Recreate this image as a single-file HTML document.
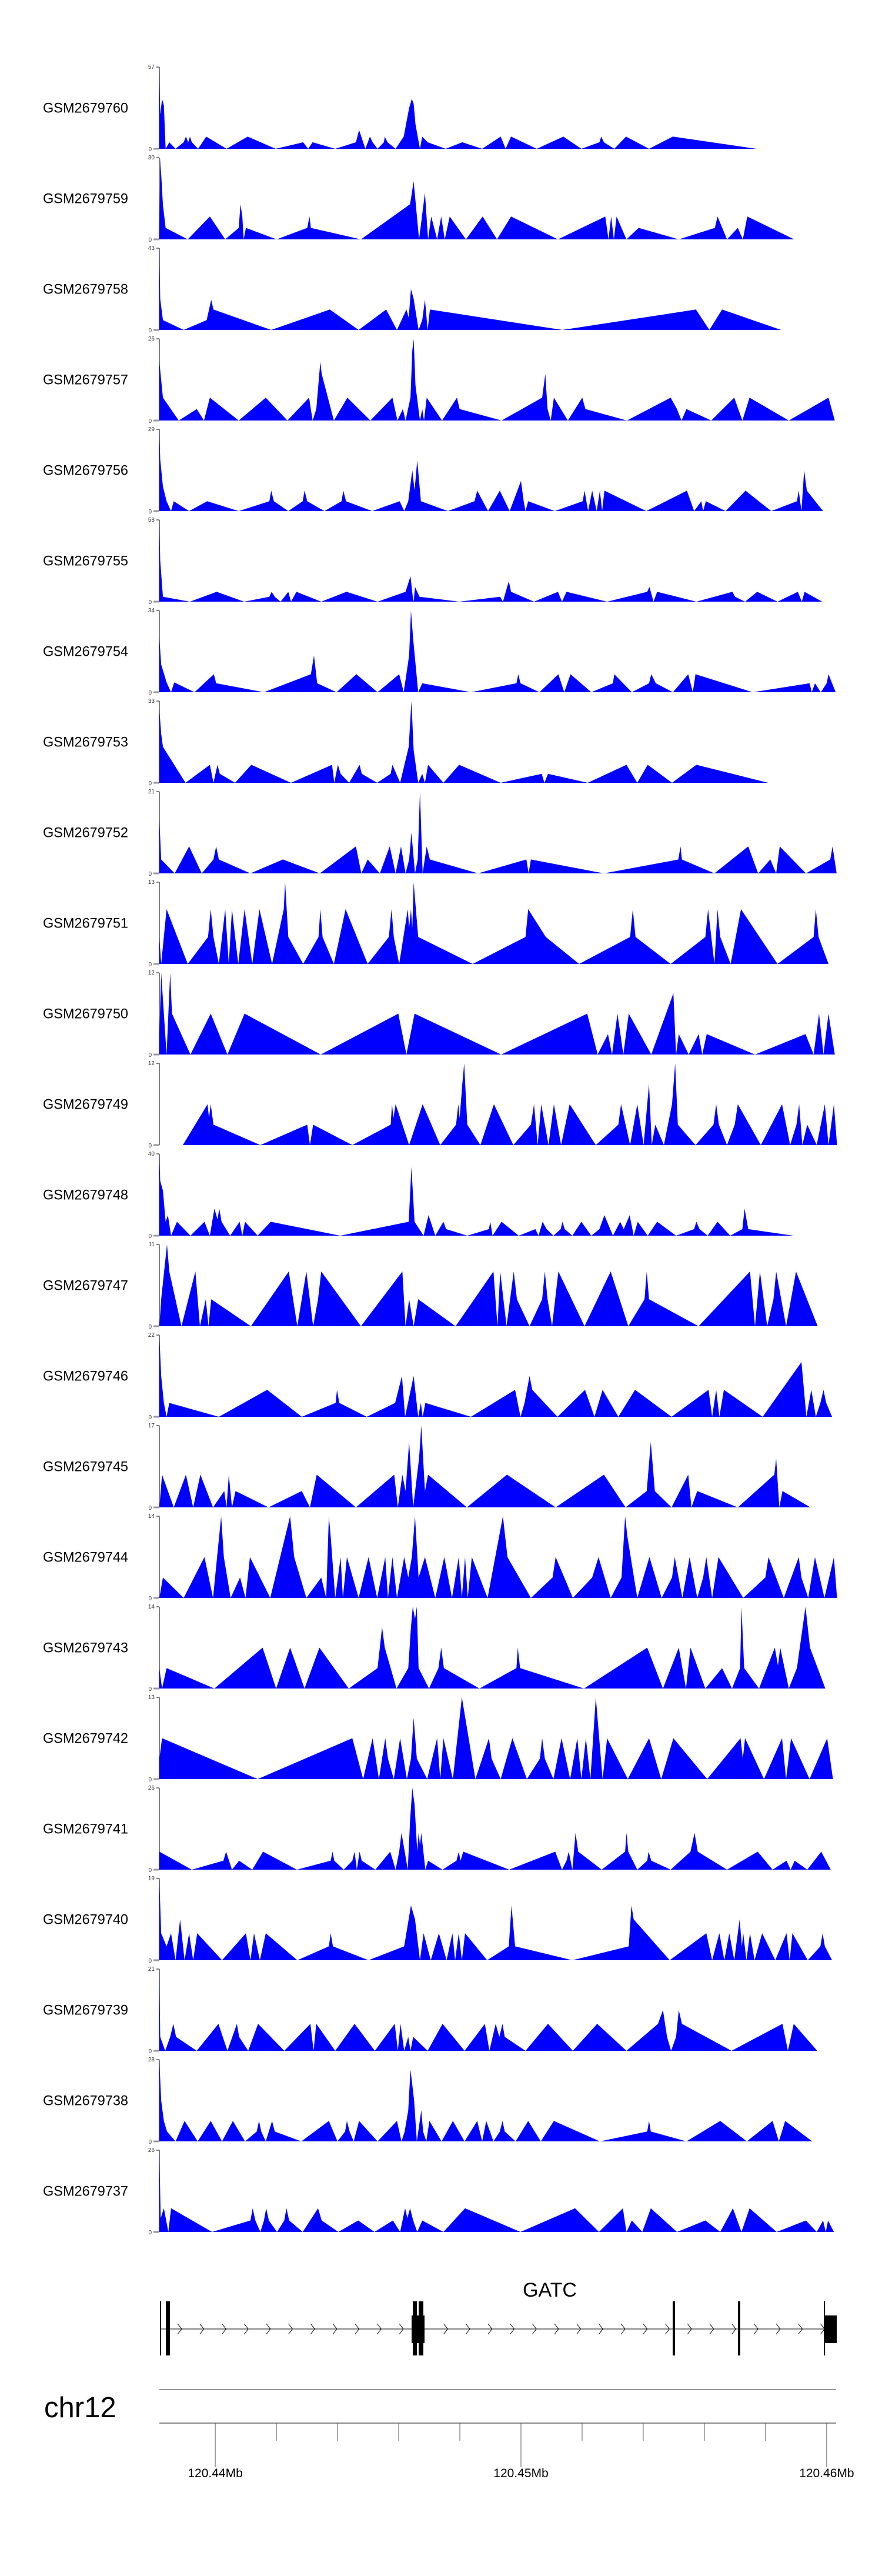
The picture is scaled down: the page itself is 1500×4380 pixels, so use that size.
<!DOCTYPE html>
<html><head><meta charset="utf-8">
<style>
html,body{margin:0;padding:0;background:#fff;}
svg{display:block;font-family:"Liberation Sans",Arial,sans-serif;}
</style></head>
<body>
<svg id="chart" width="1500" height="4380" viewBox="0 0 1500 4380" xmlns="http://www.w3.org/2000/svg">
<g id="tracks"></g>
<g id="gene"></g>
<g id="axis"></g>
</svg>
<script>
const trackNames = ["GSM2679760","GSM2679759","GSM2679758","GSM2679757","GSM2679756","GSM2679755","GSM2679754","GSM2679753","GSM2679752","GSM2679751","GSM2679750","GSM2679749","GSM2679748","GSM2679747","GSM2679746","GSM2679745","GSM2679744","GSM2679743","GSM2679742","GSM2679741","GSM2679740","GSM2679739","GSM2679738","GSM2679737"];
const trackMax = [57,30,43,26,29,58,34,33,21,13,12,12,40,11,22,17,14,14,13,26,19,21,28,26];
// coverage as [bin, percent-of-max] pairs
const cov0 = [14,100,16,42,20,61,24,53,28,0,36,8,50,0,68,8,73,15,78,8,82,15,86,8,100,0,118,15,163,0,210,15,272,0,333,8,344,0,354,8,404,0,450,8,457,23,466,8,471,0,481,15,487,8,498,0,512,8,514,15,520,8,538,0,556,15,568,50,574,61,578,55,582,30,592,0,597,15,609,8,649,0,686,8,730,0,771,15,782,0,794,15,851,0,910,15,950,0,990,8,994,15,1000,8,1023,0,1049,15,1100,0,1153,15,1338,0];
const cov1 = [14,0,16,100,18,80,22,42,28,14,77,0,126,28,160,0,190,14,194,43,198,28,201,0,206,14,274,0,342,14,347,28,350,14,461,0,570,43,578,71,590,0,603,57,610,0,617,28,630,0,639,28,647,0,658,28,694,0,731,28,763,0,794,28,898,0,1003,28,1010,0,1016,28,1022,0,1028,28,1050,0,1077,14,1166,0,1246,14,1252,28,1273,0,1297,14,1308,0,1318,28,1422,0];
const cov2 = [14,100,16,38,22,12,68,0,119,12,129,37,134,25,262,0,392,25,456,0,517,25,541,0,562,25,567,15,572,50,578,38,589,0,597,12,603,37,609,0,614,25,908,0,1204,25,1234,0,1262,25,1393,0];
const cov3 = [14,72,22,28,57,0,97,14,113,0,126,28,190,0,250,28,298,0,346,28,354,0,362,14,371,72,374,57,401,0,431,28,482,0,531,28,542,0,554,14,560,0,571,28,575,86,578,100,582,43,592,0,597,14,601,0,607,28,641,0,674,28,680,14,773,0,863,28,870,57,875,14,882,0,889,28,920,0,952,28,959,14,1051,0,1148,28,1162,14,1172,0,1183,14,1238,0,1289,28,1307,0,1323,28,1410,0,1498,28,1512,0];
const cov4 = [14,100,16,63,22,30,30,12,40,0,46,12,80,0,120,12,190,0,258,12,262,25,268,12,300,0,332,12,336,25,342,12,380,0,418,12,422,25,428,12,486,0,547,12,557,0,566,12,575,50,580,25,586,62,594,12,654,0,713,12,719,25,743,0,769,25,791,0,808,25,816,37,822,12,826,0,832,12,891,0,953,12,957,25,965,0,974,25,984,0,991,25,996,0,1001,25,1094,0,1184,25,1200,0,1216,12,1220,0,1226,12,1270,0,1314,25,1371,0,1428,12,1432,25,1438,0,1444,50,1450,25,1486,0];
const cov5 = [14,100,16,50,22,6,82,0,141,12,202,0,258,6,263,12,270,6,283,0,300,12,306,0,318,12,373,0,429,12,498,0,560,12,571,31,576,6,578,0,581,18,591,6,679,0,770,6,776,0,789,25,794,12,845,0,898,12,907,0,917,12,1007,0,1096,12,1101,18,1110,0,1118,12,1205,0,1285,12,1291,6,1313,0,1340,12,1385,0,1430,12,1439,0,1445,12,1484,0];
const cov6 = [14,67,18,34,30,12,40,0,47,12,92,0,135,22,140,11,246,0,350,22,357,45,364,11,407,0,451,22,498,0,546,22,556,0,568,45,572,100,577,65,588,0,597,11,705,0,806,11,810,22,815,11,857,0,899,22,912,0,926,22,972,0,1020,11,1023,22,1062,0,1100,11,1105,22,1115,11,1153,0,1187,22,1197,0,1203,22,1330,0,1456,11,1461,0,1468,11,1481,0,1494,11,1498,22,1514,0];
const cov7 = [14,90,18,60,22,44,72,0,126,22,134,0,143,22,148,11,182,0,218,22,306,0,397,22,402,0,410,22,416,11,435,0,458,22,463,11,497,0,527,11,531,22,548,0,567,44,573,100,578,40,588,0,597,11,603,0,610,22,644,0,679,22,771,0,862,11,868,0,876,11,964,0,1050,22,1074,0,1097,22,1151,0,1205,22,1364,0];
const cov8 = [14,67,18,17,48,0,80,33,108,0,134,17,140,33,146,17,216,0,288,17,370,0,450,33,462,0,476,17,503,0,525,33,538,0,550,33,560,0,568,17,573,50,581,0,587,17,592,100,598,0,607,33,614,17,721,0,828,17,833,0,838,17,1000,0,1165,17,1170,33,1173,17,1245,0,1320,33,1342,0,1369,17,1382,0,1390,33,1448,0,1502,17,1507,33,1516,0];
const cov9 = [14,33,18,0,30,67,77,0,122,33,128,67,134,33,146,0,160,67,168,0,175,67,189,0,203,67,220,0,236,67,264,0,290,67,293,100,300,33,333,0,367,33,371,67,376,33,401,0,427,67,476,0,523,33,529,67,534,33,546,0,565,67,568,44,572,67,575,44,578,100,588,33,709,0,826,33,832,67,871,33,945,0,1058,33,1064,67,1070,33,1148,0,1225,33,1231,67,1245,0,1252,67,1258,33,1281,0,1304,67,1385,0,1465,33,1470,67,1476,33,1498,0];
const cov10 = [14,25,18,100,24,50,30,0,38,100,42,50,83,0,128,50,165,0,203,50,372,0,544,50,562,0,580,50,772,0,963,50,986,0,1009,25,1018,0,1030,50,1043,0,1055,50,1105,0,1154,75,1160,0,1166,25,1188,0,1210,25,1218,0,1228,25,1335,0,1447,25,1465,0,1477,50,1487,0,1498,50,1512,0];
const cov11 = [66,0,121,50,124,33,128,50,134,25,238,0,342,25,348,0,355,25,442,0,527,25,530,50,533,33,538,50,568,0,598,50,637,0,672,25,677,50,680,33,686,75,690,100,697,25,726,0,756,50,799,0,838,25,845,50,853,0,861,50,877,0,889,50,905,0,924,50,982,0,1032,25,1038,50,1058,0,1074,50,1088,0,1100,75,1106,0,1114,25,1133,0,1151,50,1158,100,1164,25,1203,0,1243,25,1249,50,1255,25,1273,0,1290,25,1297,50,1348,0,1395,50,1413,0,1427,25,1433,50,1440,0,1451,25,1472,0,1490,50,1498,0,1510,50,1517,0];
const cov12 = [14,100,16,67,22,55,28,17,33,25,40,0,53,17,83,0,114,17,126,0,136,33,143,20,147,33,152,17,171,0,192,17,198,0,204,17,232,0,261,17,415,0,567,17,573,84,580,17,600,0,611,25,626,0,644,17,650,8,697,0,745,8,748,17,753,0,773,17,811,0,848,8,855,0,864,17,873,8,888,0,904,8,908,17,913,8,930,0,950,17,972,0,990,8,1001,25,1020,0,1036,17,1044,8,1057,25,1066,0,1075,17,1097,0,1118,17,1160,0,1200,8,1205,17,1212,8,1230,0,1252,17,1280,0,1307,8,1312,33,1320,8,1420,0];
const cov13 = [14,0,18,33,31,100,36,67,63,0,94,67,104,0,117,33,123,0,129,33,217,0,301,67,320,0,340,67,355,0,366,33,373,67,461,0,553,67,560,0,568,33,578,0,588,33,671,0,755,67,764,0,770,67,784,0,800,67,807,33,835,0,863,33,869,67,875,33,885,0,899,67,957,0,1015,67,1054,0,1090,33,1095,67,1100,33,1210,0,1324,67,1335,0,1346,67,1362,0,1376,33,1382,67,1404,0,1426,67,1474,0];
const cov14 = [14,100,18,50,24,17,30,0,36,17,146,0,253,33,330,0,405,17,408,33,413,17,474,0,537,17,552,50,559,0,578,50,588,0,594,17,598,0,604,17,705,0,803,33,815,0,824,17,835,50,841,33,897,0,958,33,979,0,997,33,1032,0,1069,33,1150,0,1232,33,1240,0,1249,33,1256,0,1266,33,1352,0,1438,67,1449,0,1460,33,1470,0,1480,17,1487,33,1493,17,1506,0];
const cov15 = [14,0,20,40,46,0,73,40,89,0,105,40,133,0,158,20,163,0,168,40,175,0,183,20,256,0,330,20,348,0,363,40,450,0,535,40,543,0,553,40,560,20,568,80,577,0,590,60,595,100,603,20,610,40,696,0,785,40,893,0,1000,40,1048,0,1095,20,1104,80,1113,20,1150,0,1187,40,1194,0,1207,20,1297,0,1378,40,1382,60,1389,0,1396,20,1458,0];
const cov16 = [14,0,22,25,68,0,114,50,133,0,151,100,157,50,172,0,193,25,205,0,215,50,260,0,304,100,313,50,340,0,373,25,384,0,390,100,394,75,404,0,416,50,421,0,430,50,456,0,478,50,497,0,515,50,521,0,531,50,541,0,557,50,566,25,574,50,581,100,589,25,603,50,626,0,646,50,663,0,678,50,685,0,692,50,698,0,707,50,742,0,776,100,786,50,838,0,886,25,893,50,931,0,974,25,988,50,1015,0,1039,25,1047,100,1052,75,1074,0,1101,50,1128,0,1151,25,1157,50,1174,0,1190,50,1207,0,1220,25,1227,50,1240,0,1254,50,1309,0,1358,25,1365,50,1399,0,1432,50,1438,25,1453,0,1468,50,1489,0,1510,50,1517,0];
const cov17 = [14,25,20,0,30,25,136,0,243,50,273,0,304,50,336,0,369,50,434,0,498,25,508,75,514,50,540,0,566,25,572,75,576,100,581,85,585,100,589,25,612,0,633,25,639,50,645,25,724,0,806,25,809,50,814,25,956,0,1096,50,1131,0,1166,50,1182,0,1192,50,1225,0,1262,25,1284,0,1302,25,1305,100,1311,25,1344,0,1379,50,1386,28,1391,50,1410,0,1428,25,1447,100,1457,50,1491,0];
const cov18 = [14,25,20,50,232,0,442,50,466,0,487,50,501,0,515,50,521,25,534,0,548,50,563,0,572,25,578,75,585,25,608,0,630,50,637,0,644,50,665,0,685,100,715,0,745,50,751,25,771,0,797,50,829,0,858,25,863,50,869,25,888,0,906,50,925,0,941,50,950,0,960,50,970,0,982,100,997,0,1007,50,1053,0,1100,50,1127,0,1154,50,1229,0,1303,50,1308,25,1313,50,1355,0,1395,50,1404,0,1415,50,1456,0,1495,50,1508,0];
const cov19 = [14,22,86,0,156,11,162,22,175,0,191,11,220,0,244,22,319,0,394,11,398,22,402,11,423,0,442,11,447,22,452,0,458,22,463,11,493,0,526,22,538,0,546,22,551,45,565,0,570,60,575,100,580,80,586,22,589,45,592,30,595,45,604,0,610,11,642,0,673,11,678,22,682,11,688,22,790,0,892,22,907,0,917,11,922,22,930,0,937,45,943,22,995,0,1047,22,1050,45,1054,22,1074,0,1096,11,1099,22,1105,11,1148,0,1192,22,1201,45,1208,22,1273,0,1341,22,1374,0,1405,11,1414,0,1423,11,1451,0,1482,22,1503,0];
const cov20 = [14,100,18,33,30,17,40,33,50,0,60,50,70,0,80,33,89,0,98,33,153,0,206,33,216,0,224,33,237,0,250,33,320,0,390,17,394,33,399,17,478,0,557,17,572,67,581,50,592,0,600,33,616,0,634,33,651,0,664,33,670,0,678,33,685,0,692,33,741,0,789,17,795,67,803,17,930,0,1055,17,1061,67,1066,50,1146,0,1227,33,1240,0,1256,33,1267,0,1278,33,1289,0,1301,50,1306,17,1309,33,1316,0,1324,33,1334,0,1351,33,1380,0,1405,33,1412,0,1418,33,1452,0,1480,17,1485,33,1490,17,1506,0];
const cov21 = [14,100,16,17,27,0,38,17,45,33,51,17,97,0,145,33,165,0,186,33,191,17,211,0,233,33,291,0,349,33,356,0,362,33,404,0,447,33,492,0,536,33,543,0,549,33,557,0,566,17,571,0,577,17,609,0,642,33,691,0,736,33,746,0,760,33,768,17,775,33,780,17,826,0,876,33,931,0,985,33,1050,0,1120,33,1131,50,1140,17,1149,0,1160,17,1166,50,1173,33,1283,0,1396,33,1408,0,1421,33,1473,0];
const cov22 = [14,100,18,50,24,25,31,12,50,0,70,25,99,0,128,25,153,0,177,25,204,0,230,12,235,25,240,12,250,0,264,25,270,12,329,0,390,25,409,0,426,12,430,25,436,12,445,0,457,25,498,0,541,25,551,0,558,12,566,38,571,88,579,50,585,0,595,38,599,12,606,0,613,25,640,0,665,25,691,0,719,25,730,0,739,25,755,0,769,12,775,25,780,12,804,0,832,25,860,0,889,25,991,0,1096,12,1100,25,1104,12,1183,0,1258,25,1317,0,1374,25,1388,0,1402,25,1462,0];
const cov23 = [14,100,17,17,24,29,34,0,40,29,131,0,216,14,221,29,227,14,238,0,246,14,251,29,257,14,275,0,291,14,296,29,302,14,332,0,366,29,374,14,411,0,455,14,491,0,532,14,548,0,559,29,564,17,570,29,577,14,586,0,597,14,644,0,692,29,815,0,936,29,989,0,1042,29,1050,0,1062,14,1085,0,1104,29,1162,0,1225,14,1258,0,1286,29,1305,0,1323,29,1383,0,1448,14,1472,0,1486,14,1492,0,1497,14,1510,0];
const coverage = [cov0,cov1,cov2,cov3,cov4,cov5,cov6,cov7,cov8,cov9,cov10,cov11,cov12,cov13,cov14,cov15,cov16,cov17,cov18,cov19,cov20,cov21,cov22,cov23];
const axisTickLabels = ["120.44Mb","120.45Mb","120.46Mb"];
const axisTickBins = [138, 816, 1494];

const NS = "http://www.w3.org/2000/svg";
function mk(tag, attrs, parent){const e=document.createElementNS(NS,tag);for(const k in attrs)e.setAttribute(k,attrs[k]);parent.appendChild(e);return e;}
const X0=271, X1=1422;
function xScale(bin){return X0 + (bin-14)*(X1-X0)/(1515-14);}
const TOP0=114, BASE0=253, PITCH=154;
function yScale(i,v){const base=BASE0+PITCH*i, top=TOP0+PITCH*i;return base-(v/100)*(base-top);}

const tracks=document.getElementById('tracks');
coverage.forEach((arr,i)=>{
  const g=mk('g',{},tracks);
  
  
  const base=BASE0+PITCH*i, top=TOP0+PITCH*i;
  const lbl=mk('text',{x:73,y:(top+base)/2+8,'font-size':24,fill:'#000',textLength:145,lengthAdjust:'spacingAndGlyphs'},g);
  lbl.textContent=trackNames[i];
  
  
  const ax=mk('line',{x1:X0,y1:top,x2:X0,y2:base,stroke:'#555','stroke-width':1.5},g);
  
  
  mk('line',{x1:X0-5,y1:top,x2:X0,y2:top,stroke:'#555','stroke-width':1.5},g);
  mk('line',{x1:X0-10,y1:base,x2:X0,y2:base,stroke:'#999','stroke-width':3},g);
  const tmax=mk('text',{x:X0-8,y:top+3,'font-size':10,'text-anchor':'end',fill:'#333'},g);
  tmax.textContent=trackMax[i];
  
  
  const t0=mk('text',{x:X0-13,y:base+4,'font-size':10,'text-anchor':'end',fill:'#333'},g);
  t0.textContent='0';
  
  
  let d='M'+xScale(arr[0]).toFixed(1)+','+base;
  for(let k=0;k<arr.length;k+=2){d+=' L'+xScale(arr[k]).toFixed(1)+','+yScale(i,arr[k+1]).toFixed(1);}
  d+=' L'+xScale(arr[arr.length-2]).toFixed(1)+','+base+' Z';
  const p=mk('path',{d:d,fill:'#0000ff',stroke:'none'},g);
  
  
});

// gene track
const gene=document.getElementById('gene');
const gl=mk('text',{x:935,y:3905,'font-size':34,'text-anchor':'middle',fill:'#000'},gene);
gl.textContent='GATC';


const intr=mk('line',{x1:273,y1:3960,x2:1402,y2:3960,stroke:'#000','stroke-width':1},gene);


const exons=[[272,2,3913,92],[282,7,3913,92],[702,7,3913,92],[700,22,3937,47],[712,8,3913,92],[1144,4,3913,92],[1255,4,3913,92],[1401,2,3913,92],[1402,21,3937,47]];
exons.forEach(e=>{const r=mk('rect',{x:e[0],y:e[2],width:e[1],height:e[3],fill:'#000'},gene);
  
  });
for(let cx=302;cx<1398;cx+=37.7){
  if((cx>692&&cx<726)||(cx>1136&&cx<1154)||(cx>1247&&cx<1266))continue;
  mk('path',{d:`M${cx.toFixed(1)},3951 L${(cx+7).toFixed(1)},3960 L${cx.toFixed(1)},3969`,stroke:'#000','stroke-width':1,fill:'none'},gene);
}

// genome axis
const axis=document.getElementById('axis');
const chr=mk('text',{x:75,y:4110,'font-size':49,fill:'#000'},axis);
chr.textContent='chr12';


mk('line',{x1:X0,y1:4063,x2:X1,y2:4063,stroke:'#999','stroke-width':2},axis);
const al=mk('line',{x1:X0,y1:4120,x2:X1,y2:4120,stroke:'#888','stroke-width':2},axis);


const step=(axisTickBins[1]-axisTickBins[0])/5;
for(let b=axisTickBins[0]-step*5;b<=1520;b+=step){
  const x=xScale(b);
  if(x<X0||x>X1+1)continue;
  const major=axisTickBins.some(t=>Math.abs(t-b)<1);
  mk('line',{x1:x,y1:4120,x2:x,y2:major?4195:4150,stroke:'#555','stroke-width':1},axis);
}
axisTickBins.forEach((b,i)=>{const t=mk('text',{x:xScale(b),y:4212,'font-size':21,'text-anchor':'middle',fill:'#000'},axis);
  t.textContent=axisTickLabels[i];
  
  });
</script>
</body></html>
